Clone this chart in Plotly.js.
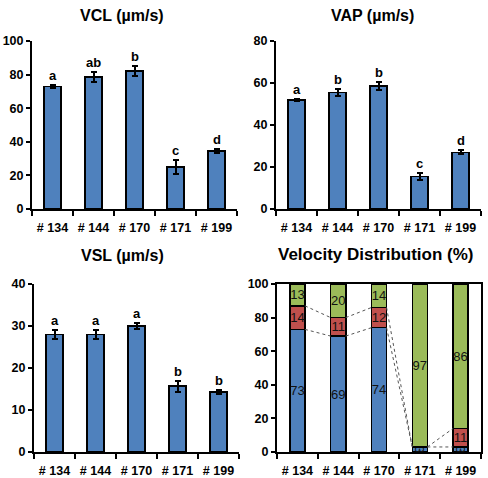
<!DOCTYPE html>
<html><head><meta charset="utf-8">
<script src="https://cdn.plot.ly/plotly-3.0.1.min.js"></script>
<style>html,body{margin:0;padding:0;background:#fff}#chart{width:488px;height:478px}</style>
</head><body><div id="chart"></div>
<script>
const categories = ["# 134", "# 144", "# 170", "# 171", "# 199"];

const vclValues = [73, 78.5, 82, 25, 34.5];
const vclErrors = [1, 3, 3, 4, 1];
const vclLetters = ["a", "ab", "b", "c", "d"];

const vapValues = [52, 55.5, 58.5, 15.5, 27];
const vapErrors = [0.6, 1.6, 2, 1.5, 1];
const vapLetters = ["a", "b", "b", "c", "d"];

const vslValues = [28, 28, 30, 15.7, 14.3];
const vslErrors = [1, 1, 0.7, 1.3, 0.5];
const vslLetters = ["a", "a", "a", "b", "b"];

const distBlue = [73, 69, 74, 3, 3];
const distRed = [14, 11, 12, 0, 11];
const distGreen = [13, 20, 14, 97, 86];

const titles = ["VCL (µm/s)", "VAP (µm/s)", "VSL (µm/s)", "Velocity Distribution (%)"];

const FONT = "Liberation Sans, Arial, sans-serif";
const idx = categories.map((c, i) => i);
const BLUE = "#4f81bd", RED = "#c0504d", GREEN = "#9bbb59";

function xaxis(domain, anchor, mirror) {
  return {
    domain: domain, anchor: anchor, range: [-0.5, 4.5], fixedrange: true,
    tickmode: "array", tickvals: idx, ticktext: categories,
    ticks: "outside", ticklen: 6, tickcolor: "rgba(0,0,0,0)",
    minor: {tickmode: "array", tickvals: idx.map(i => i - 0.5).concat([4.5]), ticks: "outside", ticklen: 5, tickwidth: 2, tickcolor: "#000"},
    showline: true, linecolor: "#000", linewidth: 2, mirror: mirror,
    showgrid: false, zeroline: false,
    tickfont: {family: FONT, size: 12.5, color: "#000", weight: "bold"}
  };
}
function yaxis(domain, anchor, max, dtick, mirror) {
  return {
    domain: domain, anchor: anchor, range: [0, max], dtick: dtick, fixedrange: true,
    ticks: "outside", ticklen: 4, tickwidth: 2, tickcolor: "#000",
    showline: true, linecolor: "#000", linewidth: 2, mirror: mirror,
    showgrid: false, zeroline: false,
    tickfont: {family: FONT, size: 12.5, color: "#000", weight: "bold"}
  };
}

function barTrace(vals, errs, xa, ya) {
  return {
    type: "bar", x: idx, y: vals, width: 0.42, xaxis: xa, yaxis: ya,
    marker: {color: BLUE, line: {color: "#000", width: 1.5}},
    error_y: {type: "data", array: errs, visible: true, color: "#000", thickness: 2, width: 3},
    hoverinfo: "skip", showlegend: false
  };
}

const traces = [
  barTrace(vclValues, vclErrors, "x", "y"),
  barTrace(vapValues, vapErrors, "x2", "y2"),
  barTrace(vslValues, vslErrors, "x3", "y3")
];

const stackW = 0.37;
[[distBlue, BLUE], [distRed, RED], [distGreen, GREEN]].forEach(([vals, col]) => {
  traces.push({
    type: "bar", x: idx, y: vals, width: stackW, xaxis: "x4", yaxis: "y4",
    marker: {color: col, line: {color: "#000", width: 1.5}},
    text: vals.map(String), textposition: "inside", insidetextanchor: "middle",
    textfont: {family: FONT, size: 13, color: "#111"},
    hoverinfo: "skip", showlegend: false
  });
});

// series lines (dotted) connecting stacked segment tops
const cumBlue = distBlue.slice();
const cumRed = distBlue.map((b, i) => b + distRed[i]);
[cumBlue, cumRed].forEach(cum => {
  for (let i = 0; i < categories.length - 1; i++) {
    traces.push({
      type: "scatter", mode: "lines", xaxis: "x4", yaxis: "y4",
      x: [i + stackW / 2, i + 1 - stackW / 2], y: [cum[i], cum[i + 1]],
      line: {color: "#555", width: 1, dash: "dot"}, hoverinfo: "skip", showlegend: false
    });
  }
});

const annotations = [];
function letters(vals, errs, lets, xa, ya) {
  vals.forEach((v, i) => annotations.push({
    x: i, y: v + errs[i], xref: xa, yref: ya, text: lets[i], showarrow: false,
    yanchor: "bottom", yshift: 0, font: {family: FONT, size: 13, color: "#000", weight: "bold"}
  }));
}
letters(vclValues, vclErrors, vclLetters, "x", "y");
letters(vapValues, vapErrors, vapLetters, "x2", "y2");
letters(vslValues, vslErrors, vslLetters, "x3", "y3");

const titlePos = [[122 / 488, 1 - 15 / 478], [372 / 488, 1 - 15 / 478], [122 / 488, 1 - 256 / 478], [376 / 488, 1 - 254 / 478]];
const titleSizes = [16, 16, 16, 17];
titles.forEach((t, i) => annotations.push({
  x: titlePos[i][0], y: titlePos[i][1], xref: "paper", yref: "paper", text: t, showarrow: false,
  xanchor: "center", yanchor: "middle", font: {family: FONT, size: titleSizes[i], color: "#000", weight: "bold"}
}));

const topY = [1 - 209 / 478, 1 - 41 / 478];
const botY = [1 - 452 / 478, 1 - 284 / 478];

const layout = {
  width: 488, height: 478, margin: {l: 0, r: 0, t: 0, b: 0},
  paper_bgcolor: "#fff", plot_bgcolor: "#fff", barmode: "stack", showlegend: false,
  xaxis: xaxis([32 / 488, 237 / 488], "y", false),
  yaxis: yaxis(topY, "x", 100, 20, false),
  xaxis2: xaxis([276 / 488, 481 / 488], "y2", false),
  yaxis2: yaxis(topY, "x2", 80, 20, false),
  xaxis3: xaxis([34 / 488, 239 / 488], "y3", false),
  yaxis3: yaxis(botY, "x3", 40, 10, false),
  xaxis4: xaxis([277 / 488, 481 / 488], "y4", true),
  yaxis4: yaxis(botY, "x4", 100, 20, true),
  annotations: annotations,
  uniformtext: {mode: "show", minsize: 12}
};

Plotly.newPlot("chart", traces, layout, {displayModeBar: false, staticPlot: true});
</script></body></html>
